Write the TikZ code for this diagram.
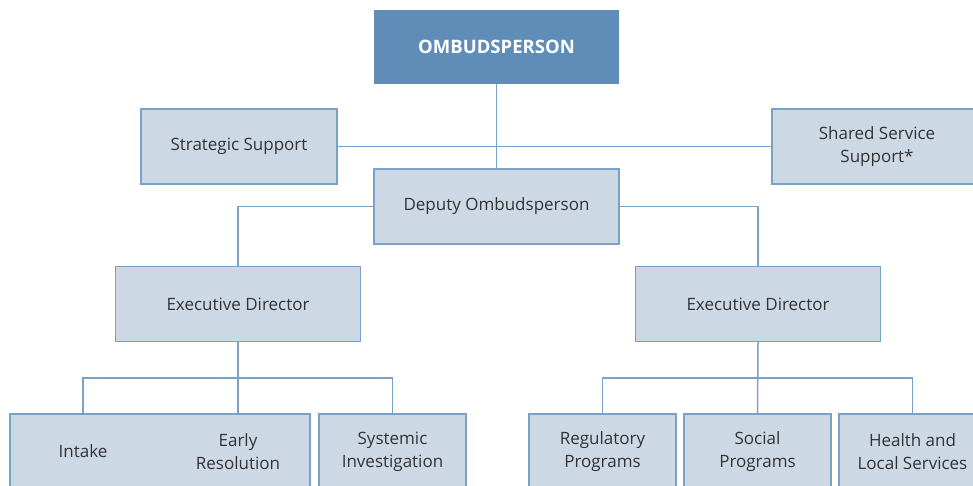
\documentclass[tikz,border=0pt]{standalone}
\usepackage{fontspec}
\setmainfont{Open Sans}
\usetikzlibrary{positioning}
\definecolor{ombblue}{HTML}{5F8DB8}
\definecolor{unitfill}{HTML}{CDD8E5}
\definecolor{unitline}{HTML}{7AA1C8}
\tikzstyle{link} = [draw=unitline, line width=1.5pt]
\tikzstyle{head} = [rectangle, minimum width=245pt, minimum height=74pt, text centered, fill=ombblue, text=white, font=\bfseries\fontsize{18.5}{22}\selectfont]
\tikzstyle{unit} = [rectangle, minimum width=147pt, minimum height=75pt, align=center, draw=unitline, line width=1.2pt, fill=unitfill, text=black!80, font=\fontsize{17}{23}\selectfont]
\tikzstyle{label} = [align=center, text=black!80, font=\fontsize{17}{23}\selectfont]

\begin{document}
\begin{tikzpicture}[x=1pt, y=-1pt]
\clip (0,0) rectangle (973,485);

\node (ombud) [head] at (496.5,47) {OMBUDSPERSON};

\node (strat) [unit, minimum width=196pt] at (239,146.5) {Strategic Support};
\node (shared) [unit, minimum width=210pt] at (877,146.5) {Shared Service\\Support*};
\node (deputy) [unit, minimum width=245pt] at (496.5,206.5) {Deputy Ombudsperson};

\node (execL) [unit, minimum width=245pt] at (238,304) {Executive Director};
\node (execR) [unit, minimum width=245pt] at (758,304) {Executive Director};

% bottom row, left
\node (front) [unit, minimum width=300pt] at (160,451.5) {};
\node (intake) [label] at (83,451.5) {Intake};
\node (early) [label] at (238,451.5) {Early\\Resolution};
\node (systemic) [unit] at (392.5,451.5) {Systemic\\Investigation};

% bottom row, right
\node (regul) [unit] at (602.5,451.5) {Regulatory\\Programs};
\node (social) [unit] at (757.5,451.5) {Social\\Programs};
\node (health) [unit] at (912.5,451.5) {Health and\\Local Services};

\coordinate (busL) at (238,378);
\coordinate (busR) at (757.5,378);

\draw [link] (ombud) -- (deputy);
\draw [link] (strat) -- (shared);
\draw [link] (deputy.west) -| (execL.north);
\draw [link] (deputy.east) -| (execR.north);

\draw [link] (execL.south) -- (early |- front.north);
\draw [link] (intake |- front.north) |- (busL) -| (systemic.north);

\draw [link] (execR.south) -- (social.north);
\draw [link] (regul.north) |- (busR) -| (health.north);

\end{tikzpicture}
\end{document}
